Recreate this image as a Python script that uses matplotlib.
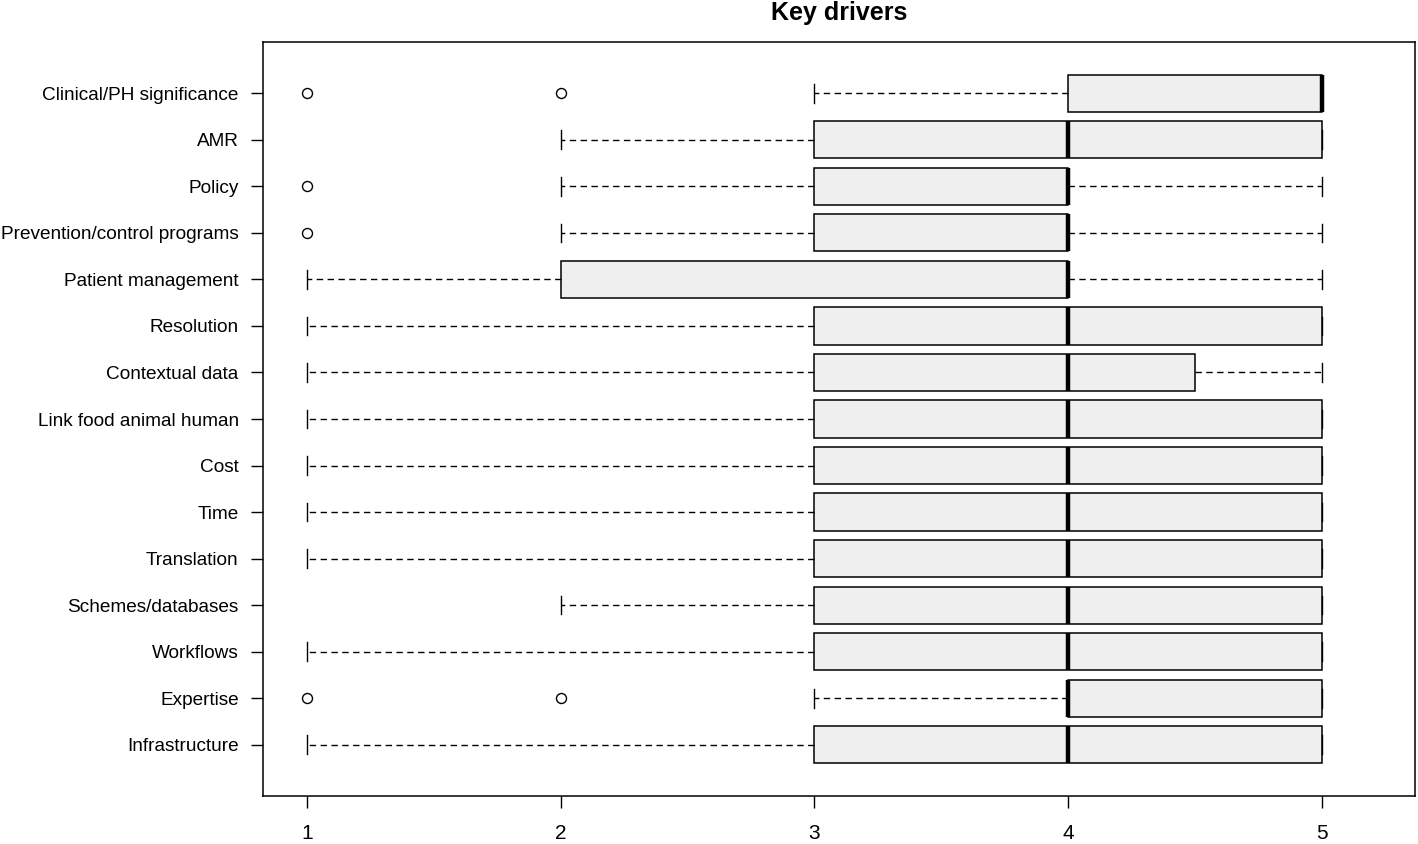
import matplotlib
matplotlib.use("Agg")
import matplotlib.pyplot as plt

categories = ["Clinical/PH significance", "AMR", "Policy", "Prevention/control programs",
              "Patient management", "Resolution", "Contextual data", "Link food animal human",
              "Cost", "Time", "Translation", "Schemes/databases", "Workflows", "Expertise",
              "Infrastructure"]
whislo = [3, 2, 2, 2, 1, 1, 1, 1, 1, 1, 1, 2, 1, 3, 1]
q1     = [4, 3, 3, 3, 2, 3, 3, 3, 3, 3, 3, 3, 3, 4, 3]
med    = [5, 4, 4, 4, 4, 4, 4, 4, 4, 4, 4, 4, 4, 4, 4]
q3     = [5, 5, 4, 4, 4, 5, 4.5, 5, 5, 5, 5, 5, 5, 5, 5]
whishi = [5, 5, 5, 5, 5, 5, 5, 5, 5, 5, 5, 5, 5, 5, 5]
fliers = [[1, 2], [], [1], [1], [], [], [], [], [], [], [], [], [], [1, 2], []]
xticks = [1, 2, 3, 4, 5]

plt.rcParams['font.family'] = ['Liberation Sans', 'DejaVu Sans']

fig = plt.figure(figsize=(14.18, 8.44), dpi=100)
ax = fig.add_axes([263/1418, 1 - 796/844, (1415 - 263)/1418, (796 - 42)/844])

n = len(categories)
positions = list(range(n, 0, -1))
stats = []
for i in range(n):
    stats.append(dict(whislo=whislo[i], q1=q1[i], med=med[i], q3=q3[i],
                      whishi=whishi[i], fliers=fliers[i], label=categories[i]))

ax.bxp(stats, positions=positions, vert=False, widths=0.8, capwidths=0.4,
       patch_artist=True, showfliers=True,
       boxprops=dict(facecolor="#efefef", edgecolor="black", linewidth=1.1),
       medianprops=dict(color="black", linewidth=3.2, solid_capstyle="butt"),
       whiskerprops=dict(color="black", linewidth=1.0, linestyle=(0, (4.6, 3.2))),
       capprops=dict(color="black", linewidth=1.0),
       flierprops=dict(marker="o", markerfacecolor="none", markeredgecolor="black",
                       markersize=7.2, markeredgewidth=1.0))

ax.set_xlim(0.826, 5.368)
ax.set_ylim(-0.1, 16.1)
ax.set_xticks(xticks)
ax.set_xticklabels([str(t) for t in xticks])
ax.set_yticks(positions)
ax.set_yticklabels(categories)
ax.tick_params(axis='both', direction='out', length=8.5, width=1.0, color='black')
ax.tick_params(axis='x', pad=12, labelsize=15)
ax.tick_params(axis='y', pad=9, labelsize=13.7)
for s in ax.spines.values():
    s.set_linewidth(1.1)

fig.text(839/1418, 1 - 13/844, "Key drivers", ha="center", va="center",
         fontsize=18, fontweight="bold")

fig.savefig("out.png", dpi=100)
